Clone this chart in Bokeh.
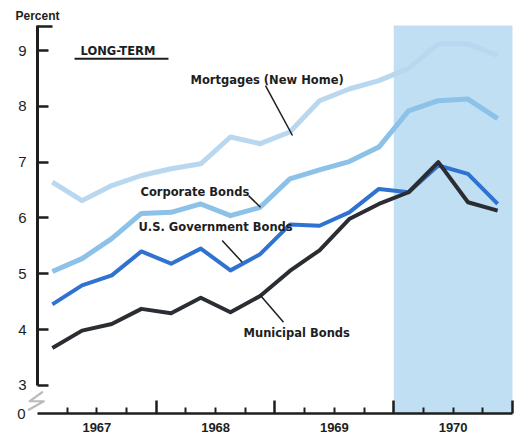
from bokeh.plotting import figure
from bokeh.models import (FixedTicker, LinearAxis, BoxAnnotation, Label, PolyAnnotation,
                          Range1d, ColumnDataSource)
from bokeh.core.properties import value
from bokeh.embed import file_html
from bokeh.resources import INLINE

# ---- data (quarterly averages, percent) ----
quarters = ["1967Q1", "1967Q2", "1967Q3", "1967Q4",
            "1968Q1", "1968Q2", "1968Q3", "1968Q4",
            "1969Q1", "1969Q2", "1969Q3", "1969Q4",
            "1970Q1", "1970Q2", "1970Q3", "1970Q4"]
mortgages = [6.64, 6.31, 6.58, 6.76, 6.88, 6.97, 7.45, 7.33,
             7.54, 8.10, 8.31, 8.46, 8.68, 9.12, 9.12, 8.91]
corporate = [5.04, 5.27, 5.63, 6.08, 6.10, 6.25, 6.04, 6.19,
             6.70, 6.86, 7.01, 7.27, 7.92, 8.10, 8.13, 7.78]
us_gov = [4.45, 4.79, 4.97, 5.40, 5.18, 5.45, 5.06, 5.35,
          5.88, 5.86, 6.10, 6.52, 6.46, 6.94, 6.79, 6.25]
municipal = [3.67, 3.98, 4.10, 4.37, 4.29, 4.57, 4.31, 4.60,
             5.05, 5.42, 5.98, 6.25, 6.46, 7.00, 6.28, 6.13]

years = [1967, 1968, 1969, 1970]
year_labels = ["1967", "1968", "1969", "1970"]
y_ticks = [3, 4, 5, 6, 7, 8, 9]
shade_start, shade_end = 1970.0, 1971.0

x = [int(q[:4]) + (int(q[-1]) - 0.5) / 4 for q in quarters]
src = ColumnDataSource(dict(x=x, mort=mortgages, corp=corporate, gov=us_gov, muni=municipal))

X0, X1 = 1967.0, 1971.0          # axis extent
Y_TOP, Y_ZERO = 9.448, 2.495      # top of y axis / position of the broken "0"
p = figure(width=519, height=436, output_backend="svg", toolbar_location=None,
           x_range=Range1d(1966.6884, 1971.059), y_range=Range1d(2.083, 9.896),
           min_border_left=0, min_border_right=0, min_border_top=0, min_border_bottom=0)
p.outline_line_color = None
p.xgrid.visible = False
p.ygrid.visible = False
p.background_fill_color = "white"
p.border_fill_color = "white"

INK = "#1e1e1e"

# shaded period
p.add_layout(BoxAnnotation(left=shade_start, right=shade_end, top=Y_TOP, bottom=Y_ZERO,
                           fill_color="#c0dff3", fill_alpha=1.0, line_color=None,
                           level="underlay"))

# lines
p.line("x", "mort", source=src, line_color="#b9d8ef", line_width=5, line_join="round")
p.line("x", "corp", source=src, line_color="#8cc1e8", line_width=5, line_join="round")
p.line("x", "gov", source=src, line_color="#2f72cf", line_width=4, line_join="round")
p.line("x", "muni", source=src, line_color="#2a2e33", line_width=4, line_join="round")

# ---- x axis: year boundaries + quarter minor ticks ----
xa = p.xaxis[0]
xa.fixed_location = Y_ZERO
xa.bounds = (X0, X1)
xa.ticker = FixedTicker(ticks=[y for y in years[1:]] + [years[-1] + 1],
                        minor_ticks=[y + q / 4 for y in years for q in (1, 2, 3)])
xa.major_tick_in = 13
xa.major_tick_out = 0
xa.minor_tick_in = 6
xa.minor_tick_out = 0
xa.major_tick_line_width = 2.5
xa.minor_tick_line_width = 2
xa.major_tick_line_color = INK
xa.minor_tick_line_color = INK
xa.axis_line_width = 2.5
xa.axis_line_color = INK
xa.major_label_text_font_size = "1px"
xa.major_label_text_color = None
xa.major_label_standoff = 0

xlab = LinearAxis(ticker=FixedTicker(ticks=[y + 0.5 for y in years]),
                  fixed_location=Y_ZERO,
                  major_label_overrides={y + 0.5: lab for y, lab in zip(years, year_labels)},
                  axis_line_color=None, major_tick_line_color=None, minor_tick_line_color=None,
                  major_tick_in=0, major_tick_out=0,
                  major_label_text_font="Liberation Sans",
                  major_label_text_font_style="bold",
                  major_label_text_font_size="13px", major_label_text_color=INK,
                  major_label_standoff=9)
p.add_layout(xlab, "below")

# ---- y axis (placed at 1967, broken below 3) ----
ya = p.yaxis[0]
ya.fixed_location = X0
ya.bounds = (3, Y_TOP)
ya.ticker = FixedTicker(ticks=y_ticks, minor_ticks=[Y_TOP - 0.02])
ya.major_tick_in = 11
ya.major_tick_out = 0
ya.minor_tick_in = 15
ya.minor_tick_out = 0
ya.minor_tick_line_width = 2.5
ya.minor_tick_line_color = INK
ya.major_tick_line_width = 2.5
ya.major_tick_line_color = INK
ya.axis_line_width = 3
ya.axis_line_color = INK
ya.major_label_text_font = "Liberation Sans"
ya.major_label_text_font_size = "15px"
ya.major_label_text_color = INK
ya.major_label_standoff = 11

# zero label and axis break
p.add_layout(Label(x=X0, y=Y_ZERO, x_offset=-12, text="0", text_align="right",
                   text_baseline="middle", text_font="Liberation Sans",
                   text_font_size="15px", text_color=INK))
bx = [1967.0396, 1966.935, 1967.053, 1966.927]
by = [2.876, 2.715, 2.715, 2.561]
p.add_layout(PolyAnnotation(xs=bx + bx[-2:0:-1], ys=by + by[-2:0:-1],
                            fill_alpha=0, line_color=INK, line_width=2.2, line_join="round"))

# "Percent"
p.add_layout(Label(x=X0, y=9.615, x_offset=-22, text="Percent", text_align="left",
                   text_baseline="middle", text_font="Liberation Sans",
                   text_font_style="bold", text_font_size="12px", text_color=INK))

# ---- text labels ----
FONT = value("DejaVu Sans")
labels = [
    ("LONG-TERM", 1967.362, 8.99),
    ("Mortgages (New Home)", 1968.288, 8.48),
    ("Corporate Bonds", 1967.867, 6.47),
    ("U.S. Government Bonds", 1967.85, 5.83),
    ("Municipal Bonds", 1968.735, 3.93),
]
for t, lx, ly in labels:
    p.text(x=[lx], y=[ly], text=[t], text_font=FONT, text_font_style="bold",
           text_font_size="11.5px", text_baseline="middle", text_align="left", text_color=INK)

# underline of LONG-TERM
p.segment(x0=[1967.312], y0=[8.85], x1=[1968.103], y1=[8.85], line_color=INK, line_width=2)

# leader lines
leaders_x0 = [1968.92, 1968.777, 1968.555, 1968.878]
leaders_y0 = [8.37, 6.40, 5.595, 4.61]
leaders_x1 = [1969.147, 1968.878, 1968.724, 1969.072]
leaders_y1 = [7.477, 6.19, 5.206, 4.13]
p.segment(x0=leaders_x0, y0=leaders_y0, x1=leaders_x1, y1=leaders_y1,
          line_color=INK, line_width=1.5)

open("out.html", "w").write(file_html(p, INLINE))
